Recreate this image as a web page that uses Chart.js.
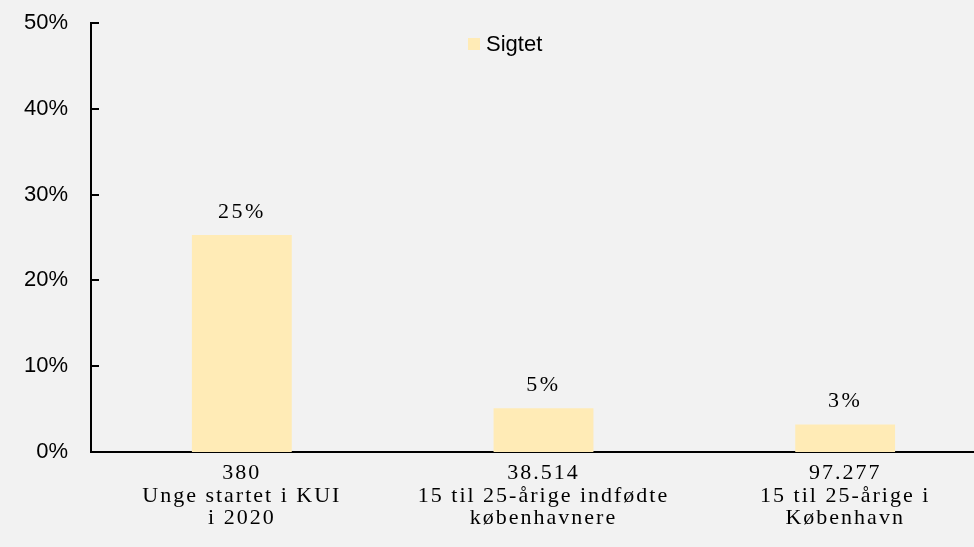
<!DOCTYPE html>
<html>
<head>
<meta charset="utf-8">
<script src="https://cdn.jsdelivr.net/npm/chart.js@4.4.0/dist/chart.umd.min.js"></script>
<style>
html, body { margin: 0; padding: 0; background: #f2f2f2; overflow: hidden; }
#wrap { width: 1000px; height: 547px; }
</style>
</head>
<body>
<div id="wrap"><canvas id="chart" width="1000" height="547"></canvas></div>
<script>
// data
const categories = [
    ['380', 'Unge startet i KUI', 'i 2020'],
    ['38.514', '15 til 25-årige indfødte', 'københavnere'],
    ['97.277', '15 til 25-årige i', 'København']
];
const seriesName = 'Sigtet';
const sigtet = [25.3, 5.1, 3.2];
const valueLabels = ['25%', '5%', '3%'];
const yTicks = [0, 10, 20, 30, 40, 50];

const barColor = '#ffebb6';
const serif = '"Liberation Serif", "Times New Roman", serif';
const sans = '"Liberation Sans", Arial, sans-serif';

// x tick labels get letter spacing, y ones do not
const spacedLabels = {
    id: 'spacedLabels',
    beforeDraw(chart) {
        const sc = chart.scales.x;
        if (sc._spaced) return;
        const orig = sc.drawLabels;
        sc.drawLabels = function (area) {
            const ctx = this.ctx;
            ctx.save();
            ctx.letterSpacing = '2px';
            orig.call(this, area);
            ctx.restore();
        };
        sc._spaced = true;
    }
};

const extras = {
    id: 'extras',
    afterDatasetsDraw(chart) {
        const ctx = chart.ctx;
        const meta = chart.getDatasetMeta(0);
        ctx.save();
        ctx.font = '22px ' + serif;
        ctx.letterSpacing = '2.5px';
        ctx.fillStyle = '#000';
        ctx.textAlign = 'center';
        ctx.textBaseline = 'middle';
        meta.data.forEach((bar, i) => {
            ctx.fillText(valueLabels[i], bar.x, bar.y - 23);
        });
        ctx.restore();
    },
    afterDraw(chart) {
        const ctx = chart.ctx;
        const y = chart.scales.y;
        const left = chart.chartArea.left;
        ctx.save();
        // inward tick marks on y axis
        ctx.strokeStyle = '#000';
        ctx.lineWidth = 2;
        yTicks.forEach(v => {
            const py = Math.round(y.getPixelForValue(v));
            ctx.beginPath();
            ctx.moveTo(left, py);
            ctx.lineTo(left + 8, py);
            ctx.stroke();
        });
        // legend
        ctx.fillStyle = barColor;
        ctx.fillRect(468, 38, 12, 12);
        ctx.fillStyle = '#000';
        ctx.font = '22px ' + sans;
        ctx.textAlign = 'left';
        ctx.textBaseline = 'middle';
        ctx.fillText(seriesName, 486, 45);
        ctx.restore();
    }
};

new Chart(document.getElementById('chart'), {
    type: 'bar',
    data: {
        labels: categories,
        datasets: [{
            label: seriesName,
            data: sigtet,
            backgroundColor: barColor,
            borderWidth: 0,
            barPercentage: 1,
            categoryPercentage: 0.331
        }]
    },
    options: {
        responsive: false,
        animation: false,
        layout: { padding: { top: 23, right: 4, left: 0, bottom: 0 } },
        plugins: {
            legend: { display: false },
            tooltip: { enabled: false }
        },
        scales: {
            x: {
                afterFit(s) { s.height = 95; },
                grid: { display: false, drawTicks: false },
                border: { display: true, color: '#000', width: 2 },
                ticks: {
                    color: '#000',
                    padding: 10,
                    maxRotation: 0,
                    autoSkip: false,
                    font: { family: serif, size: 22, lineHeight: 1.023 }
                }
            },
            y: {
                min: 0,
                max: 50,
                afterFit(s) {
                    s.width = 91;
                    s.paddingTop = 0;
                    s.paddingBottom = 0;
                },
                grid: { display: false, drawTicks: false },
                border: { display: true, color: '#000', width: 2 },
                ticks: {
                    stepSize: 10,
                    color: '#000',
                    padding: 23,
                    font: { family: sans, size: 22 },
                    callback: v => v + '%'
                }
            }
        }
    },
    plugins: [spacedLabels, extras]
});
</script>
</body>
</html>
